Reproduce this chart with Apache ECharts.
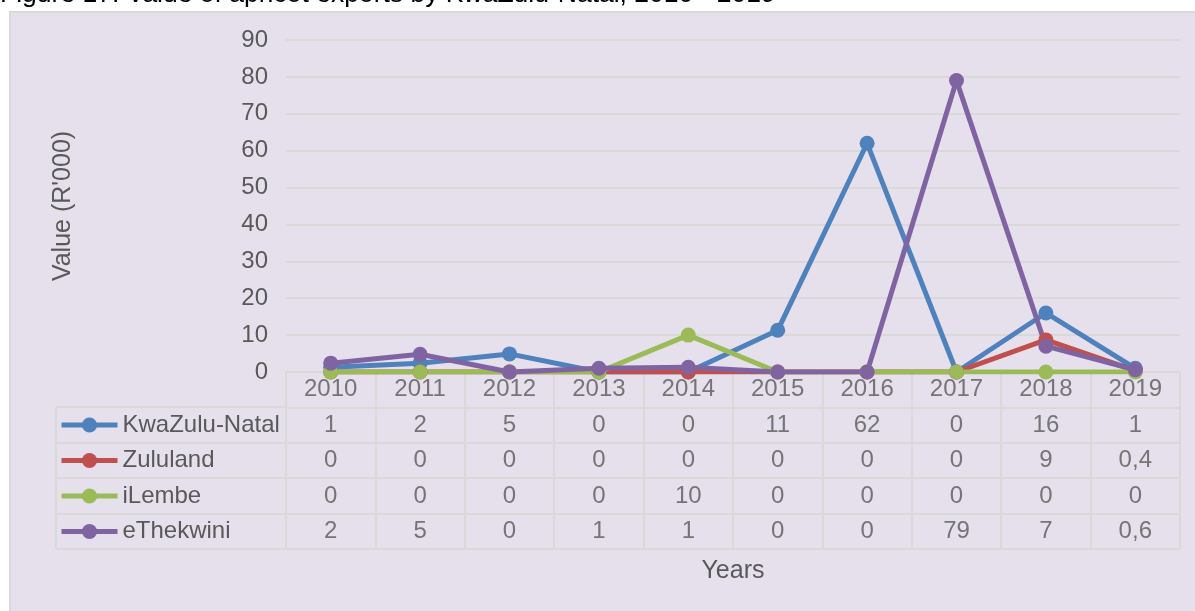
<!DOCTYPE html>
<html>
<head>
<meta charset="utf-8">
<script src="https://cdn.jsdelivr.net/npm/echarts@6/dist/echarts.min.js"></script>
<style>html,body{margin:0;padding:0;background:#fff;}#c{width:1195px;height:611px;}</style>
</head>
<body>
<div id="c"></div>
<script>
const years = ['2010','2011','2012','2013','2014','2015','2016','2017','2018','2019'];
const seriesNames = ['KwaZulu-Natal','Zululand','iLembe','eThekwini'];
const kwazuluNatal = [1.3, 2.4, 4.9, 0, 0, 11.3, 62, 0, 16, 1];
const zululand     = [0, 0, 0, 0, 0, 0, 0, 0, 8.7, 0.4];
const iLembe       = [0, 0, 0, 0, 10, 0, 0, 0, 0, 0];
const eThekwini    = [2.4, 4.8, 0, 1, 1.3, 0, 0, 79, 7, 0.6];
const yTicks = {min: 0, max: 90, interval: 10};
const titleText = 'Figure 17: Value of apricot exports by KwaZulu-Natal, 2010 - 2019';

const allSeries = [kwazuluNatal, zululand, iLembe, eThekwini];
const colors = ['#4f81bd', '#c0504d', '#9bbb59', '#8064a2'];
const FONT = "'Liberation Sans', Arial, sans-serif";
const TXT = '#595959';
const GRIDC = '#d9d9d9';

function fmt(v) {
  if (v === 0) return '0';
  if (Math.abs(v) < 1) return v.toFixed(1).replace('.', ',');
  return String(Math.round(v));
}

const tableCells = [];
years.forEach((y, i) => tableCells.push({value: [i, 0], label: y}));
allSeries.forEach((arr, r) => arr.forEach((v, i) => tableCells.push({value: [i, r + 1], label: fmt(v)})));

const chart = echarts.init(document.getElementById('c'));
const hiddenAxis = {axisLine: {show: false}, axisTick: {show: false}, axisLabel: {show: false}};
const split = {show: true, lineStyle: {color: GRIDC, width: 2}};

chart.setOption({
  backgroundColor: '#ffffff',
  textStyle: {fontFamily: FONT},
  animation: false,
  title: {text: titleText, left: 0, top: -19, padding: 0,
    textStyle: {fontFamily: FONT, fontSize: 26.5, fontWeight: 'normal', color: '#000'}},
  graphic: [{type: 'rect', z: -10, shape: {x: 10, y: 12, width: 1190, height: 605},
    style: {fill: '#e6e0ec', stroke: GRIDC, lineWidth: 2}}],
  legend: {
    orient: 'vertical', left: 59, top: 413, padding: 0,
    itemWidth: 56, itemHeight: 19, itemGap: 11.5,
    data: seriesNames,
    lineStyle: {width: 5},
    textStyle: {fontFamily: FONT, fontSize: 24, color: TXT, lineHeight: 24}
  },
  grid: [
    {left: 286, right: 15, top: 40, height: 332},
    {left: 286, right: 15, top: 372, height: 177},
    {left: 56, width: 230, top: 407, height: 142}
  ],
  xAxis: [
    Object.assign({type: 'category', data: years, boundaryGap: true, gridIndex: 0}, hiddenAxis),
    Object.assign({type: 'category', data: years, boundaryGap: true, gridIndex: 1, splitLine: split,
      name: 'Years', nameLocation: 'middle', nameGap: 10,
      nameTextStyle: {fontFamily: FONT, fontSize: 25, color: TXT}}, hiddenAxis),
    Object.assign({type: 'value', min: 0, max: 1, interval: 1, gridIndex: 2, splitLine: split}, hiddenAxis)
  ],
  yAxis: [
    {type: 'value', gridIndex: 0, min: yTicks.min, max: yTicks.max, interval: yTicks.interval,
      axisLine: {show: false}, axisTick: {show: false},
      axisLabel: {fontFamily: FONT, fontSize: 24, color: TXT, margin: 18},
      splitLine: split,
      name: "Value (R'000)", nameLocation: 'middle', nameGap: 210,
      nameTextStyle: {fontFamily: FONT, fontSize: 25, color: TXT}},
    Object.assign({type: 'category', gridIndex: 1, inverse: true, data: ['h'].concat(seriesNames), splitLine: split}, hiddenAxis),
    Object.assign({type: 'category', gridIndex: 2, inverse: true, data: seriesNames, splitLine: split}, hiddenAxis)
  ],
  series: allSeries.map((arr, k) => ({
    name: seriesNames[k], type: 'line', xAxisIndex: 0, yAxisIndex: 0, data: arr,
    symbol: 'circle', symbolSize: 15, color: colors[k],
    lineStyle: {width: 5, color: colors[k]}, itemStyle: {color: colors[k]}
  })).concat([{
    type: 'scatter', xAxisIndex: 1, yAxisIndex: 1, symbolSize: 0, silent: true,
    data: tableCells,
    label: {show: true, position: 'inside', fontFamily: FONT, fontSize: 24, color: TXT,
      formatter: p => p.data.label}
  }])
});
</script>
</body>
</html>
